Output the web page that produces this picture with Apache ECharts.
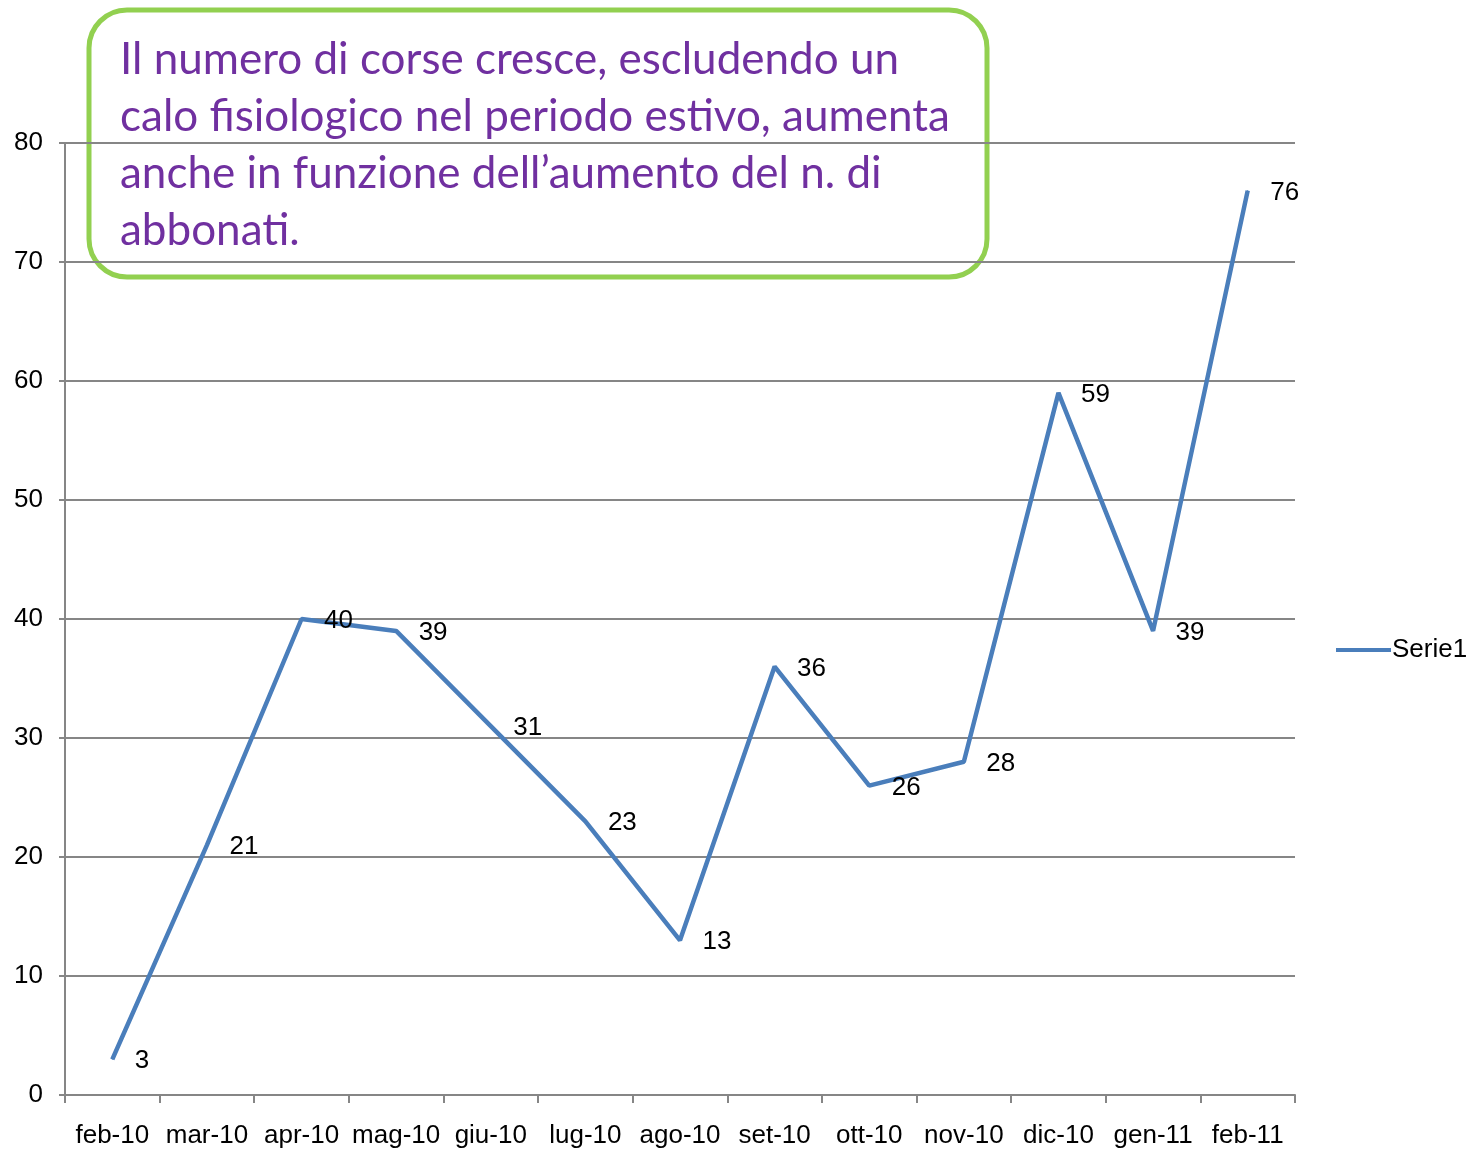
<!DOCTYPE html>
<html>
<head>
<meta charset="utf-8">
<script src="https://cdn.jsdelivr.net/npm/echarts@6/dist/echarts.min.js"></script>
<style>
  html, body { margin: 0; padding: 0; background: #fff; }
  #chart { width: 1468px; height: 1150px; }
</style>
</head>
<body>
<div id="chart"></div>
<script>
// categories and values
var months = ['feb-10', 'mar-10', 'apr-10', 'mag-10', 'giu-10', 'lug-10', 'ago-10',
              'set-10', 'ott-10', 'nov-10', 'dic-10', 'gen-11', 'feb-11'];
var serie1 = [3, 21, 40, 39, 31, 23, 13, 36, 26, 28, 59, 39, 76];
var noteLines = [
    'Il numero di corse cresce, escludendo un',
    'calo fisiologico nel periodo estivo, aumenta',
    'anche in funzione dell\u2019aumento del n. di',
    'abbonati.'
];

var axisFont = '"Liberation Sans", Arial, sans-serif';
var myChart = echarts.init(document.getElementById('chart'));

var noteText = [];
for (var i = 0; i < noteLines.length; i++) {
    noteText.push({
        type: 'text',
        left: 120,
        top: 38 + i * 57,
        style: {
            text: noteLines[i],
            fill: '#7030A0',
            font: '44px Lato, "Open Sans", sans-serif'
        }
    });
}

var option = {
    backgroundColor: '#fff',
    animation: false,
    grid: { left: 65, right: 173, top: 143, bottom: 55 },
    legend: {
        data: ['Serie1'],
        orient: 'vertical',
        left: 1331,
        top: 632,
        icon: 'rect',
        itemWidth: 55,
        itemHeight: 4,
        itemGap: 4,
        textStyle: { color: '#000', fontSize: 26, fontFamily: axisFont, padding: [0, 0, 0, -4] }
    },
    xAxis: {
        type: 'category',
        data: months,
        boundaryGap: true,
        axisLine: { lineStyle: { color: '#868686', width: 2 } },
        axisTick: { show: true, length: 8, interval: 0, lineStyle: { color: '#868686', width: 2 } },
        axisLabel: { color: '#000', fontSize: 26, margin: 28, interval: 0, fontFamily: axisFont }
    },
    yAxis: {
        type: 'value',
        min: 0,
        max: 80,
        interval: 10,
        axisLine: { show: true, lineStyle: { color: '#868686', width: 2 } },
        axisTick: { show: true, length: 6, lineStyle: { color: '#868686', width: 2 } },
        axisLabel: { color: '#000', fontSize: 26, margin: 22, fontFamily: axisFont },
        splitLine: { lineStyle: { color: '#868686', width: 2 } }
    },
    series: [
        {
            name: 'Serie1',
            type: 'line',
            data: serie1,
            showSymbol: true,
            symbol: 'circle',
            symbolSize: 1,
            lineStyle: { color: '#4A7EBB', width: 4.5 },
            itemStyle: { color: '#4A7EBB' },
            label: {
                show: true,
                position: 'right',
                distance: 22,
                offset: [0, 2],
                color: '#000',
                fontSize: 26,
                fontFamily: axisFont
            }
        }
    ],
    graphic: [
        {
            type: 'group',
            children: [
                {
                    type: 'rect',
                    shape: { x: 89, y: 10, width: 898, height: 267, r: 38 },
                    style: { fill: '#fff', stroke: '#92D050', lineWidth: 5 }
                }
            ].concat(noteText)
        }
    ]
};

myChart.setOption(option);
</script>
</body>
</html>
